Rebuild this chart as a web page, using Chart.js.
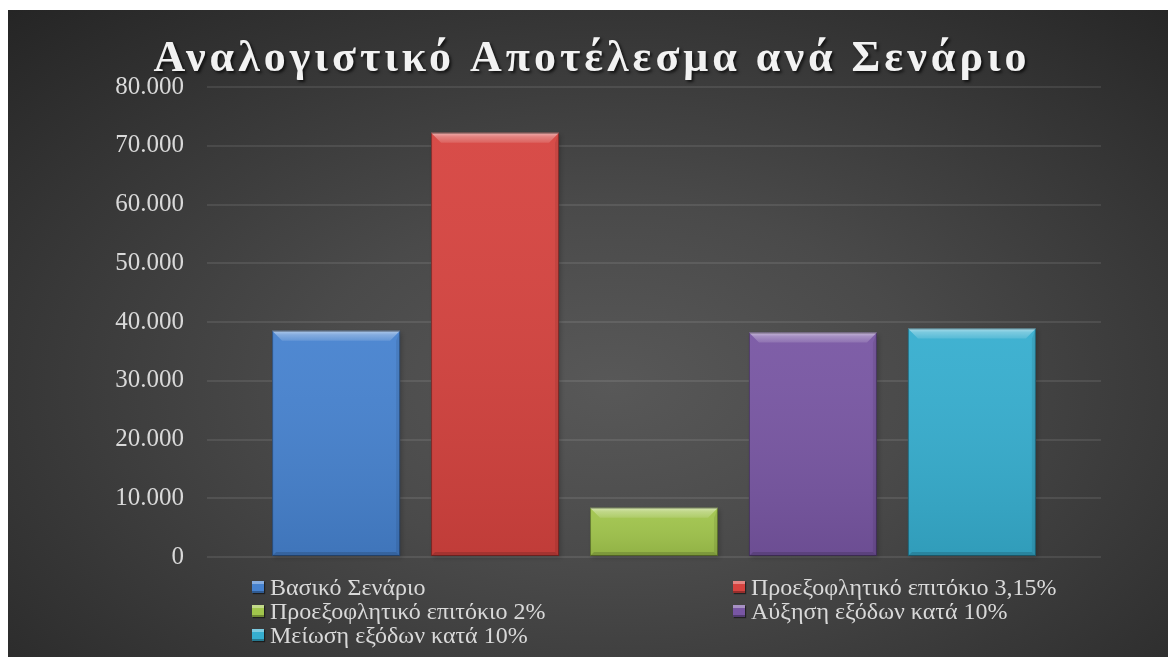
<!DOCTYPE html>
<html lang="el">
<head>
  <meta charset="UTF-8">
  <title>Αναλογιστικό Αποτέλεσμα ανά Σενάριο</title>
  <script src="https://cdn.jsdelivr.net/npm/chart.js"></script>
  <style>
    html, body { margin: 0; padding: 0; background: #fff; width: 1168px; height: 657px; overflow: hidden; }
    #wrap {
      position: absolute; left: 8px; top: 10px; width: 1160px; height: 647px;
      background: radial-gradient(ellipse 75% 80% at 52% 58%, #585858 0%, #4a4a4a 35%, #363636 70%, #252525 100%);
    }
    #wrap canvas { position: absolute; left: 0; top: 0; }
    #legend {
      position: absolute; left: 244px; top: 565px; width: 900px;
      display: grid; grid-template-columns: 481px 400px;
      font-family: "Liberation Serif", serif; font-size: 24px; line-height: 24px; color: #d9d9d9;
    }
    #legend div { display: flex; align-items: center; white-space: nowrap; height: 24px; }
    #legend span.box {
      display: inline-block; width: 12px; height: 12px; margin-right: 6px;
      box-shadow: inset 0 3px 0 rgba(255,255,255,0.35), inset 0 -2px 0 rgba(0,0,0,0.3), 1px 1px 1px rgba(0,0,0,0.5);
    }
  </style>
</head>
<body>
  <div id="wrap">
    <canvas id="chart" width="1160" height="647"></canvas>
    <div id="legend"></div>
  </div>

  <script>
    // dati
    const titolo = 'Αναλογιστικό Αποτέλεσμα ανά Σενάριο';
    const scenari = ['Βασικό Σενάριο', 'Προεξοφλητικό επιτόκιο 3,15%', 'Προεξοφλητικό επιτόκιο 2%', 'Αύξηση εξόδων κατά 10%', 'Μείωση εξόδων κατά 10%'];
    const valori = [38500, 72200, 8400, 38200, 38900];
    const colori = ['#4682cf', '#d6433f', '#a1c54c', '#7856a3', '#36aecf'];
    const yMin = 0, yMax = 80000, yStep = 10000;

    function formatta(v) {
      return String(v).replace(/\B(?=(\d{3})+(?!\d))/g, '.');
    }

    // legenda html a due colonne
    const legend = document.getElementById('legend');
    scenari.forEach((s, i) => {
      const d = document.createElement('div');
      d.innerHTML = `<span class="box" style="background:${colori[i]}"></span>${s}`;
      legend.appendChild(d);
    });

    // titolo con spaziatura e ombra
    const titoloPlugin = {
      id: 'titolo',
      afterDraw(chart) {
        const ctx = chart.ctx;
        ctx.save();
        ctx.font = 'bold 44px "Liberation Serif"';
        ctx.letterSpacing = '4px';
        ctx.textAlign = 'center';
        ctx.textBaseline = 'alphabetic';
        ctx.shadowColor = 'rgba(0,0,0,0.7)';
        ctx.shadowOffsetX = 2;
        ctx.shadowOffsetY = 2;
        ctx.shadowBlur = 3;
        ctx.fillStyle = '#f2f2f2';
        ctx.fillText(titolo, 584, 61);
        ctx.restore();
      }
    };

    // effetto rilievo sulle barre
    const rilievo = {
      id: 'rilievo',
      beforeDatasetsDraw(chart) {
        const ctx = chart.ctx;
        ctx.save();
        chart.data.datasets.forEach((ds, i) => {
          chart.getDatasetMeta(i).data.forEach(bar => {
            const p = bar.getProps(['x', 'y', 'base', 'width'], true);
            ctx.shadowColor = 'rgba(0,0,0,0.45)';
            ctx.shadowOffsetX = 2; ctx.shadowOffsetY = 2; ctx.shadowBlur = 4;
            ctx.fillStyle = 'rgba(0,0,0,0.4)';
            ctx.fillRect(p.x - p.width / 2, p.y, p.width, p.base - p.y);
          });
        });
        ctx.restore();
      },
      afterDatasetsDraw(chart) {
        const ctx = chart.ctx;
        ctx.save();
        chart.data.datasets.forEach((ds, i) => {
          chart.getDatasetMeta(i).data.forEach(bar => {
            const p = bar.getProps(['x', 'y', 'base', 'width'], true);
            const l = p.x - p.width / 2, r = p.x + p.width / 2, t = p.y, b = p.base;
            const h = b - t, bv = Math.min(10, h / 3);
            let g = ctx.createLinearGradient(0, t, 0, b);
            g.addColorStop(0, 'rgba(255,255,255,0.05)');
            g.addColorStop(1, 'rgba(0,0,0,0.1)');
            ctx.fillStyle = g; ctx.fillRect(l, t, p.width, h);
            // bordo alto
            ctx.beginPath();
            ctx.moveTo(l, t); ctx.lineTo(r, t); ctx.lineTo(r - bv, t + bv); ctx.lineTo(l + bv, t + bv); ctx.closePath();
            g = ctx.createLinearGradient(0, t, 0, t + bv);
            g.addColorStop(0, 'rgba(255,255,255,0.55)');
            g.addColorStop(0.4, 'rgba(255,255,255,0.3)');
            g.addColorStop(1, 'rgba(255,255,255,0.12)');
            ctx.fillStyle = g; ctx.fill();
            // lato destro
            ctx.beginPath();
            ctx.moveTo(r, t); ctx.lineTo(r - 4, t + bv); ctx.lineTo(r - 4, b - 4); ctx.lineTo(r, b); ctx.closePath();
            ctx.fillStyle = 'rgba(0,0,0,0.08)'; ctx.fill();
            // fondo
            ctx.beginPath();
            ctx.moveTo(l, b); ctx.lineTo(l + 4, b - 4); ctx.lineTo(r - 4, b - 4); ctx.lineTo(r, b); ctx.closePath();
            ctx.fillStyle = 'rgba(0,0,0,0.15)'; ctx.fill();
            ctx.strokeStyle = 'rgba(0,0,0,0.35)'; ctx.lineWidth = 1;
            ctx.strokeRect(l + 0.5, t + 0.5, p.width - 1, h - 1);
          });
        });
        ctx.restore();
      }
    };

    const datasets = scenari.map((s, i) => ({
      label: s,
      data: [valori[i]],
      backgroundColor: colori[i],
      borderWidth: 0,
      categoryPercentage: 0.889,
      barPercentage: 0.805
    }));

    new Chart(document.getElementById('chart'), {
      type: 'bar',
      data: { labels: [''], datasets: datasets },
      options: {
        responsive: false,
        animation: false,
        layout: { padding: { top: 77, right: 67, bottom: 100, left: 0 } },
        plugins: {
          legend: { display: false },
          title: { display: false },
          tooltip: { enabled: false }
        },
        scales: {
          x: { display: false },
          y: {
            min: yMin, max: yMax,
            afterFit(scale) { scale.width = 199; },
            border: { display: false },
            grid: { color: 'rgba(255,255,255,0.09)', lineWidth: 2, drawTicks: false },
            ticks: {
              stepSize: yStep,
              padding: 23,
              color: '#d9d9d9',
              font: { family: 'Liberation Serif', size: 25 },
              callback: v => formatta(v)
            }
          }
        }
      },
      plugins: [rilievo, titoloPlugin]
    });
  </script>
</body>
</html>
